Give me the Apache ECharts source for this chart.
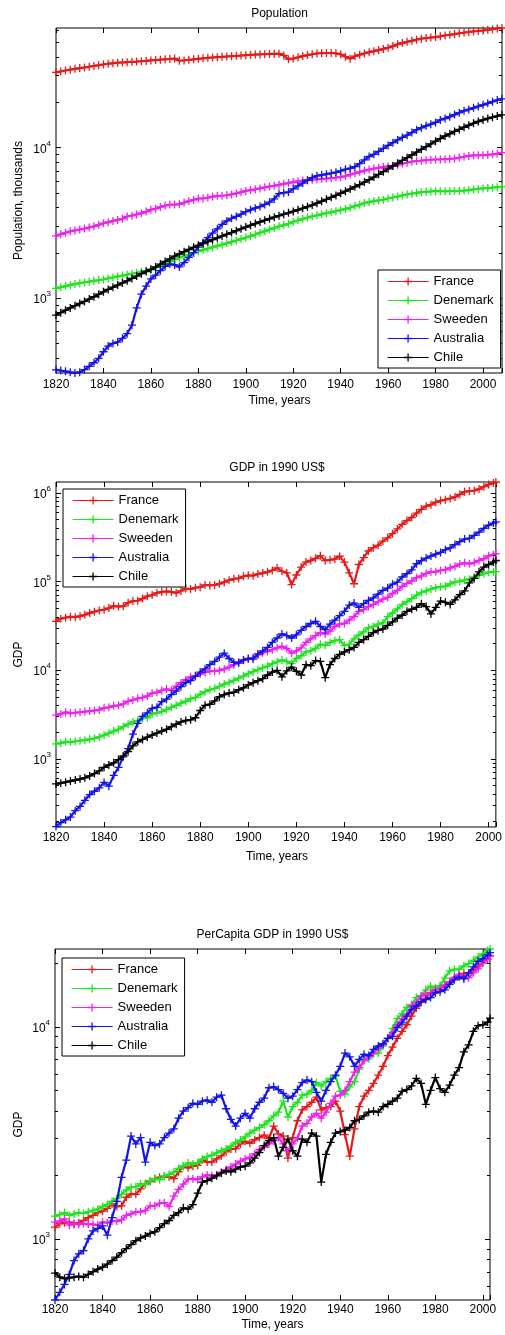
<!DOCTYPE html>
<html>
<head>
<meta charset="utf-8">
<script src="https://cdn.jsdelivr.net/npm/echarts@6/dist/echarts.min.js"></script>
<style>
  html, body { margin: 0; padding: 0; background: #fff; }
  #chart { width: 505px; height: 1335px; }
</style>
</head>
<body>
<div id="chart"></div>
<script>
// ---- Data (Maddison-style historical series) ----
const COUNTRIES = ['France', 'Denemark', 'Sweeden', 'Australia', 'Chile'];
const COLORS = ['#e61a1a', '#1ee61e', '#ee22ee', '#1414e6', '#000000'];

// Years: population every 2 years 1820-2008; GDP series every 2 years 1820-2002 plus 2003
const YEARS_POP = [];
for (let y = 1820; y <= 2008; y += 2) YEARS_POP.push(y);
const YEARS_GDP = [];
for (let y = 1820; y <= 2002; y += 2) YEARS_GDP.push(y);
YEARS_GDP.push(2003);

// Population, thousands
const POP_FRANCE = [
  31500, 31900, 32400, 32800, 33200, 33600, 33900, 34300, 34700, 35100,
  35500, 35900, 36200, 36500, 36600, 36800, 37000, 37100, 37300, 37500,
  37800, 38000, 38200, 38400, 38600, 38900, 37600, 37800, 38100, 38400,
  38700, 39000, 39300, 39500, 39700, 39900, 40100, 40300, 40500, 40700,
  40900, 41100, 41300, 41400, 41500, 41700, 41800, 41900, 40800, 38500,
  38900, 39600, 40400, 41000, 41500, 42000, 42200, 42300, 42300, 42100,
  41500, 40000, 38800, 40300, 41200, 42000, 42800, 43500, 44300, 45000,
  45900, 47000, 48300, 49300, 50200, 51000, 51900, 52700, 53200, 53600,
  54000, 54600, 55300, 55900, 56500, 57200, 57800, 58300, 58800, 59200,
  59700, 60300, 60900, 61500, 62000];
const POP_DENMARK = [
  1160, 1180, 1200, 1220, 1240, 1255, 1270, 1285, 1300, 1315,
  1330, 1350, 1370, 1390, 1410, 1430, 1450, 1470, 1495, 1515,
  1540, 1590, 1640, 1690, 1745, 1800, 1850, 1900, 1950, 2000,
  2040, 2085, 2130, 2175, 2220, 2260, 2310, 2360, 2410, 2465,
  2520, 2580, 2640, 2710, 2780, 2850, 2920, 2990, 3050, 3110,
  3200, 3280, 3350, 3420, 3480, 3540, 3600, 3660, 3710, 3770,
  3830, 3900, 3980, 4080, 4160, 4270, 4340, 4400, 4450, 4500,
  4580, 4650, 4720, 4800, 4870, 4930, 4990, 5040, 5070, 5100,
  5120, 5120, 5110, 5120, 5130, 5140, 5170, 5200, 5260, 5300,
  5340, 5370, 5400, 5440, 5480];
const POP_SWEDEN = [
  2585, 2650, 2710, 2770, 2810, 2850, 2890, 2940, 2990, 3060,
  3140, 3190, 3250, 3300, 3360, 3480, 3520, 3590, 3660, 3750,
  3860, 3920, 4020, 4110, 4170, 4170, 4200, 4300, 4400, 4480,
  4570, 4580, 4640, 4710, 4770, 4780, 4810, 4870, 4950, 5040,
  5140, 5210, 5270, 5340, 5430, 5500, 5560, 5640, 5730, 5810,
  5880, 5970, 6020, 6060, 6100, 6140, 6180, 6210, 6250, 6300,
  6360, 6450, 6600, 6720, 6880, 7010, 7130, 7230, 7320, 7410,
  7480, 7560, 7660, 7810, 7910, 8040, 8120, 8160, 8220, 8280,
  8310, 8320, 8340, 8380, 8440, 8560, 8670, 8780, 8840, 8850,
  8870, 8920, 8990, 9080, 9220];
const POP_AUSTRALIA = [
  334, 330, 326, 322, 318, 322, 335, 352, 372, 398,
  440, 480, 500, 510, 540, 580, 660, 860, 1060, 1200,
  1340, 1420, 1520, 1620, 1680, 1660, 1610, 1720, 1860, 2000,
  2180, 2330, 2520, 2700, 2880, 3080, 3250, 3380, 3480, 3600,
  3740, 3850, 3950, 4050, 4180, 4330, 4550, 4940, 5000, 5050,
  5300, 5550, 5800, 6050, 6300, 6480, 6560, 6640, 6730, 6830,
  6980, 7150, 7250, 7450, 7800, 8250, 8700, 9000, 9400, 9850,
  10300, 10750, 11200, 11650, 12050, 12550, 13100, 13500, 13900, 14250,
  14650, 15200, 15550, 16000, 16500, 17000, 17500, 17850, 18300, 18700,
  19150, 19600, 20100, 20600, 21000];
const POP_CHILE = [
  771, 800, 830, 860, 890, 920, 950, 985, 1020, 1060,
  1100, 1140, 1180, 1220, 1260, 1300, 1350, 1400, 1450, 1500,
  1550, 1610, 1680, 1750, 1820, 1900, 1960, 2030, 2100, 2170,
  2240, 2300, 2370, 2440, 2510, 2580, 2650, 2720, 2800, 2880,
  2960, 3040, 3120, 3200, 3280, 3360, 3440, 3520, 3600, 3680,
  3760, 3850, 3940, 4040, 4140, 4260, 4390, 4520, 4660, 4800,
  4960, 5120, 5290, 5470, 5660, 5880, 6100, 6350, 6620, 6900,
  7200, 7520, 7850, 8200, 8550, 8900, 9300, 9700, 10100, 10550,
  11000, 11450, 11900, 12300, 12750, 13150, 13600, 14050, 14450, 14850,
  15200, 15550, 15850, 16150, 16450];

// GDP, million 1990 US$
const GDP_FRANCE = [
  35500, 38000, 39000, 40000, 39500, 40500, 42000, 44000, 45500, 47000,
  48000, 50000, 53000, 52000, 52500, 57500, 60000, 60500, 64000, 68000,
  70000, 74000, 76000, 77000, 76000, 74000, 78000, 83000, 82000, 85000,
  86000, 91000, 90000, 91000, 94000, 98000, 103000, 107000, 108000, 114000,
  117000, 116000, 121000, 124000, 128000, 133000, 142000, 130000, 125000, 92000,
  118000, 145000, 165000, 172000, 182000, 195000, 172000, 175000, 178000, 192000,
  165000, 125000, 94000, 155000, 185000, 220000, 240000, 255000, 285000, 310000,
  345000, 390000, 440000, 485000, 525000, 590000, 650000, 705000, 730000, 780000,
  815000, 835000, 860000, 895000, 955000, 1025000, 1045000, 1055000, 1100000, 1170000,
  1240000, 1285000, 1320000];
const GDP_DENMARK = [
  1470, 1500, 1560, 1540, 1570, 1600, 1620, 1660, 1700, 1760,
  1850, 1940, 2050, 2150, 2300, 2450, 2600, 2700, 2850, 2900,
  3200, 3300, 3400, 3600, 3800, 4000, 4250, 4450, 4750, 4900,
  5350, 5700, 6000, 6200, 6550, 6950, 7250, 7650, 8100, 8550,
  9100, 9600, 10100, 10600, 11100, 11800, 12400, 13000, 12500, 11800,
  13500, 14500, 16000, 16500, 17500, 19500, 19000, 20500, 21500, 22000,
  19000, 19500, 22500, 25000, 27000, 30000, 31000, 33000, 34000, 40000,
  44000, 49000, 55000, 59000, 64000, 70000, 75000, 78000, 82000, 85000,
  87000, 88000, 94000, 99000, 100000, 103000, 106000, 112000, 117000, 122000,
  127000, 128000, 129000];
const GDP_SWEDEN = [
  3100, 3200, 3350, 3250, 3300, 3350, 3400, 3450, 3500, 3550,
  3750, 3800, 3950, 4000, 4150, 4450, 4600, 4800, 4900, 5100,
  5500, 5600, 5900, 6100, 5900, 6600, 7200, 7800, 8400, 8600,
  9000, 9400, 9800, 9700, 9900, 10300, 10800, 11500, 12300, 12900,
  13300, 13800, 14800, 15700, 16200, 17000, 17800, 18500, 17500, 15500,
  16500, 17800, 20500, 22500, 24500, 26500, 25500, 27500, 31000, 33000,
  33500, 36500, 40000, 46000, 48000, 52000, 55000, 59000, 63000, 66000,
  73000, 79000, 88000, 95000, 101000, 110000, 115000, 123000, 128000, 128000,
  133000, 135000, 142000, 148000, 157000, 162000, 158000, 163000, 172000, 180000,
  194000, 200000, 205000];
const GDP_AUSTRALIA = [
  172, 190, 205, 220, 260, 290, 340, 395, 430, 470,
  540, 490, 650, 800, 1050, 1300, 1900, 2500, 3000, 3300,
  3700, 3800, 4400, 4700, 5300, 5800, 6500, 7200, 7600, 8500,
  9500, 10300, 11500, 12500, 14000, 15500, 13500, 12200, 12000, 13000,
  13500, 13300, 15200, 16500, 18000, 20500, 23000, 25500, 24500, 23000,
  25000, 28000, 31000, 33500, 35500, 31000, 28500, 33000, 36500, 41000,
  46000, 54000, 57000, 51000, 56000, 61000, 65000, 72000, 79000, 84000,
  93000, 98000, 112000, 122000, 135000, 158000, 171000, 183000, 193000, 203000,
  212000, 228000, 238000, 260000, 280000, 300000, 305000, 330000, 360000, 395000,
  430000, 455000, 470000];
const GDP_CHILE = [
  520, 530, 545, 560, 575, 590, 610, 640, 680, 730,
  800, 850, 900, 980, 1080, 1200, 1400, 1550, 1650, 1750,
  1850, 1950, 2050, 2150, 2300, 2450, 2600, 2700, 2750, 2900,
  3500, 4000, 4100, 4500, 5000, 5300, 5500, 5600, 6000, 6300,
  6800, 7200, 7600, 8000, 8800, 9500, 9900, 8400, 9800, 10800,
  9700, 8800, 11500, 11200, 12800, 12500, 8200, 11500, 13500, 15000,
  16000, 17000, 18000, 20500, 22000, 24000, 26500, 28000, 29000, 32000,
  35000, 38500, 41500, 46000, 48500, 51000, 56000, 52000, 43000, 51000,
  60000, 58000, 55000, 62000, 71000, 78000, 96000, 108000, 128000, 145000,
  155000, 165000, 172000];

// GDP per capita, 1990 US$
const PC_FRANCE = [
  1135, 1180, 1190, 1200, 1170, 1190, 1220, 1260, 1290, 1330,
  1350, 1390, 1460, 1420, 1430, 1570, 1630, 1620, 1720, 1820,
  1860, 1920, 1950, 1970, 1960, 1920, 2070, 2200, 2160, 2200,
  2220, 2350, 2300, 2300, 2380, 2460, 2570, 2650, 2660, 2800,
  2880, 2820, 2930, 3000, 3080, 2970, 3400, 3120, 3050, 2400,
  3000, 3600, 4050, 4200, 4400, 4650, 4050, 4150, 4200, 4450,
  4000, 3100, 2450, 3300, 4200, 4700, 5000, 5400, 5900, 6500,
  7300, 8000, 8800, 9500, 10200, 11200, 12200, 13000, 13600, 14500,
  15000, 15300, 15600, 16100, 16900, 17400, 17800, 17900, 18500, 19300,
  19900, 20800, 21600];
const PC_DENMARK = [
  1280, 1300, 1330, 1290, 1310, 1330, 1320, 1340, 1360, 1380,
  1420, 1450, 1500, 1550, 1620, 1700, 1750, 1760, 1820, 1800,
  1880, 1920, 1900, 1980, 2010, 2060, 2150, 2200, 2280, 2250,
  2280, 2380, 2440, 2480, 2540, 2600, 2650, 2730, 2850, 2920,
  3020, 3150, 3250, 3350, 3450, 3600, 3800, 3950, 4450, 3750,
  4200, 4400, 4750, 4800, 5000, 5450, 5250, 5500, 5700, 5850,
  4950, 4800, 5200, 5500, 6300, 6950, 7050, 7450, 7500, 8100,
  8800, 9800, 10900, 11500, 12300, 12700, 13700, 14000, 14900, 15500,
  15200, 15600, 16900, 18300, 18600, 18600, 19300, 19800, 20500, 21300,
  22000, 22800, 23200];
const PC_SWEDEN = [
  1200, 1210, 1240, 1160, 1180, 1170, 1180, 1170, 1170, 1160,
  1200, 1190, 1210, 1210, 1230, 1290, 1310, 1340, 1340, 1360,
  1430, 1430, 1470, 1480, 1420, 1590, 1710, 1810, 1910, 1920,
  1900, 1960, 2000, 1980, 2000, 2060, 2120, 2180, 2250, 2320,
  2380, 2420, 2520, 2640, 2700, 2800, 2900, 3000, 2800, 2600,
  2800, 2980, 3400, 3500, 3750, 3900, 3700, 3950, 4350, 4700,
  4750, 5000, 5500, 6100, 6400, 6900, 7200, 7500, 7900, 8200,
  8800, 9400, 10200, 10900, 11400, 12500, 13000, 13900, 14300, 14300,
  14900, 15000, 15700, 16300, 17100, 17600, 16900, 17000, 17900, 18700,
  20300, 20900, 21500];
const PC_AUSTRALIA = [
  515, 560, 610, 680, 790, 850, 880, 1000, 1090, 1120,
  1150, 1040, 1260, 1500, 1950, 2350, 3050, 2800, 3000, 2300,
  2850, 2750, 2800, 3000, 3150, 3300, 3700, 4000, 4150, 4350,
  4300, 4450, 4500, 4400, 4650, 4750, 4100, 3650, 3400, 3700,
  3900, 3700, 4100, 4400, 4600, 5150, 5200, 5050, 4850, 4600,
  4700, 5050, 5450, 5600, 5500, 4900, 4450, 5000, 5500, 5900,
  6500, 7500, 7200, 6500, 7000, 7400, 7300, 7800, 8100, 8300,
  8800, 9000, 9900, 10400, 11200, 12000, 12500, 13100, 13400, 13700,
  14400, 14600, 14900, 15800, 16600, 17100, 16800, 17900, 19100, 20300,
  20900, 21800, 22300];
const PC_CHILE = [
  690, 660, 650, 655, 660, 665, 660, 680, 700, 720,
  735, 760, 790, 820, 860, 900, 940, 980, 1010, 1030,
  1060, 1080, 1130, 1180, 1220, 1290, 1330, 1400, 1380, 1450,
  1640, 1850, 1880, 1930, 1980, 2040, 2090, 2070, 2130, 2180,
  2200, 2280, 2400, 2550, 2750, 2900, 3000, 2450, 2700, 2950,
  2600, 2450, 2950, 2850, 3150, 3050, 1850, 2500, 2850, 3150,
  3200, 3250, 3350, 3600, 3650, 3800, 3950, 4000, 3950, 4200,
  4300, 4450, 4600, 4950, 5050, 5250, 5700, 5400, 4300, 5000,
  5750, 5100, 4900, 5300, 5900, 6400, 7600, 8200, 9500, 10100,
  10200, 10500, 10950];

// Axis tick labels and ranges per panel
const X_TICK_STEP = 20;
const PANEL_TITLES = ['Population', 'GDP in 1990 US$', 'PerCapita GDP in 1990 US$'];
const Y_NAMES = ['Population, thousands', 'GDP', 'GDP'];
const X_NAME = 'Time, years';
const X_RANGES = [[1820, 2008], [1820, 2003], [1820, 2003]];
const Y_RANGES = [[318, 62000], [170, 1320000], [515, 23200]];

// ---- Layout ----
const FONT = '"Liberation Sans", Arial, Helvetica, sans-serif';
const GRIDS = [
  { left: 56, top: 28, width: 447, height: 345 },
  { left: 56, top: 482, width: 442, height: 345 },
  { left: 55, top: 949, width: 435, height: 351 }
];
const X_LABEL_MARGIN = [6, 5, 4];
const X_NAME_OFFSET = [28, 30, 25];
const LEGEND_POS = [[378, 270], [63, 489], [62, 958]];

const PANEL_DATA = [
  { years: YEARS_POP, series: [POP_FRANCE, POP_DENMARK, POP_SWEDEN, POP_AUSTRALIA, POP_CHILE] },
  { years: YEARS_GDP, series: [GDP_FRANCE, GDP_DENMARK, GDP_SWEDEN, GDP_AUSTRALIA, GDP_CHILE] },
  { years: YEARS_GDP, series: [PC_FRANCE, PC_DENMARK, PC_SWEDEN, PC_AUSTRALIA, PC_CHILE] }
];

// '+' marker as a filled cross
const PLUS = 'path://M0,4.2H10V5.8H0Z M4.2,0H5.8V10H4.2Z';

const chart = echarts.init(document.getElementById('chart'), null, { renderer: 'canvas' });

const grid = GRIDS.map(g => Object.assign({
  show: true, borderColor: '#000', borderWidth: 1, backgroundColor: '#fff',
  containLabel: false
}, g));

const xAxis = [];
const yAxis = [];
X_RANGES.forEach((r, i) => {
  xAxis.push({
    gridIndex: i, type: 'value', position: 'bottom', min: r[0], max: r[1], interval: X_TICK_STEP,
    axisLine: { show: false },
    axisTick: { inside: true, length: 5, lineStyle: { color: '#000', width: 1 } },
    axisLabel: {
      color: '#000', fontSize: 12, fontFamily: FONT, margin: X_LABEL_MARGIN[i],
      formatter: v => (v % X_TICK_STEP === 0 ? String(v) : '')
    },
    splitLine: { show: false }
  });
  xAxis.push({
    gridIndex: i, type: 'value', position: 'top', min: r[0], max: r[1], interval: X_TICK_STEP,
    axisLine: { show: false },
    axisTick: { inside: true, length: 5, lineStyle: { color: '#000', width: 1 } },
    axisLabel: { show: false },
    splitLine: { show: false }
  });
});
Y_RANGES.forEach((r, i) => {
  yAxis.push({
    gridIndex: i, type: 'log', logBase: 10, min: r[0], max: r[1],
    axisLine: { show: false },
    axisTick: { show: false },
    minorTick: { show: false },
    splitLine: { show: false },
    axisLabel: {
      margin: 5,
      formatter: v => {
        const lg = Math.log10(v);
        const e = Math.round(lg);
        if (Math.abs(lg - e) > 1e-6) return '';
        return '{b|10}{s|' + e + '}';
      },
      rich: {
        b: { fontSize: 12, color: '#000', fontFamily: FONT, lineHeight: 16, verticalAlign: 'bottom' },
        s: { fontSize: 8, color: '#000', fontFamily: FONT, lineHeight: 16, verticalAlign: 'top' }
      }
    }
  });
});

// Log-scale tick marks (major at 10^k, minor at 2..9 x 10^k) on both sides of each box
function logTickSeries(i) {
  const lo = Y_RANGES[i][0], hi = Y_RANGES[i][1];
  const data = [];
  for (let e = Math.floor(Math.log10(lo)); e <= Math.ceil(Math.log10(hi)); e++) {
    for (let m = 1; m <= 9; m++) {
      const v = m * Math.pow(10, e);
      if (v > lo && v < hi) data.push([X_RANGES[i][0], v, m === 1 ? 1 : 0]);
    }
  }
  return {
    type: 'custom', name: 'ticks' + i, xAxisIndex: i * 2, yAxisIndex: i,
    silent: true, z: 3, clip: false, data,
    renderItem(params, api) {
      const cs = params.coordSys;
      const y = Math.round(api.coord([api.value(0), api.value(1)])[1]) + 0.5;
      const len = api.value(2) ? 5 : 3;
      const st = { stroke: '#000', lineWidth: 1 };
      return {
        type: 'group', children: [
          { type: 'line', shape: { x1: cs.x, y1: y, x2: cs.x + len, y2: y }, style: st },
          { type: 'line', shape: { x1: cs.x + cs.width - len, y1: y, x2: cs.x + cs.width, y2: y }, style: st }
        ]
      };
    }
  };
}

const series = [];
PANEL_DATA.forEach((p, i) => {
  p.series.forEach((vals, k) => {
    series.push({
      type: 'line', name: COUNTRIES[k], xAxisIndex: i * 2, yAxisIndex: i,
      data: p.years.map((yr, j) => [yr, vals[j]]),
      symbol: PLUS, symbolSize: 8, showSymbol: true, showAllSymbol: true,
      lineStyle: { color: COLORS[k], width: 2.2 },
      itemStyle: { color: COLORS[k] },
      emphasis: { disabled: true },
      clip: true, z: 2 + k * 0.01
    });
  });
  series.push(logTickSeries(i));
});

const legend = LEGEND_POS.map(pos => ({
  orient: 'vertical', left: pos[0], top: pos[1],
  data: COUNTRIES, selectedMode: false,
  itemWidth: 41, itemHeight: 10, itemGap: 6,
  padding: [5, 7, 4, 9],
  borderColor: '#000', borderWidth: 1, borderRadius: 0, backgroundColor: '#fff',
  lineStyle: { width: 1.2 },
  textStyle: { fontSize: 13, color: '#000', fontFamily: FONT }
}));

// Titles and axis names
const graphic = [];
GRIDS.forEach((g, i) => {
  const cx = g.left + g.width / 2;
  const cy = g.top + g.height / 2;
  graphic.push({
    type: 'text', x: cx, y: g.top - 14,
    style: { text: PANEL_TITLES[i], fontSize: 12, fontFamily: FONT, fill: '#000',
             textAlign: 'center', textVerticalAlign: 'middle', align: 'center', verticalAlign: 'middle' }
  });
  graphic.push({
    type: 'text', x: cx, y: g.top + g.height + X_NAME_OFFSET[i],
    style: { text: X_NAME, fontSize: 12, fontFamily: FONT, fill: '#000',
             textAlign: 'center', textVerticalAlign: 'middle', align: 'center', verticalAlign: 'middle' }
  });
  graphic.push({
    type: 'text', x: 19, y: cy, rotation: Math.PI / 2,
    style: { text: Y_NAMES[i], fontSize: 12, fontFamily: FONT, fill: '#000',
             textAlign: 'center', textVerticalAlign: 'middle', align: 'center', verticalAlign: 'middle' }
  });
});

chart.setOption({
  animation: false,
  backgroundColor: '#fff',
  grid, xAxis, yAxis, series, legend, graphic
});
</script>
</body>
</html>
